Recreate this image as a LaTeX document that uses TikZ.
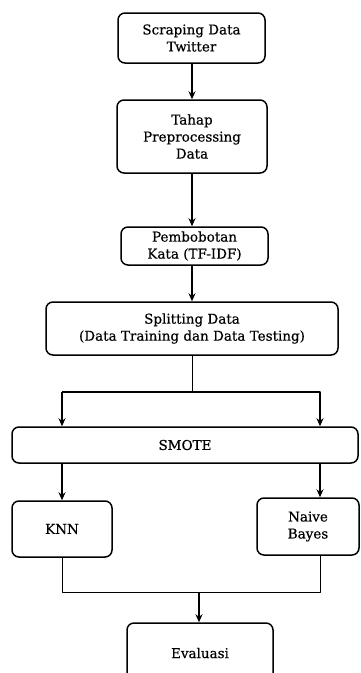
\documentclass[tikz,border=0pt]{standalone}
\usepackage{fontspec}
\setmainfont{DejaVu Serif}[FakeBold=0.5]
\usetikzlibrary{positioning,arrows.meta}
\tikzset{
	tahap/.style={draw, rounded corners=7pt, line width=1.5pt, align=center, inner sep=0pt},
	panah/.style={->, line width=1.1pt},
	garis/.style={line width=0.9pt},
}
\begin{document}
\begin{tikzpicture}[>={Stealth[length=8pt,width=7pt]},line join=round,font=\fontsize{13.5}{17}\selectfont\addfontfeature{FakeBold=0.5}, x=1pt, y=-1pt]
				\useasboundingbox (0,0) rectangle (360,673);
				\node[tahap, minimum width=147pt, minimum height=50pt] (scrap) at (191.5,38) {Scraping Data\\Twitter};
				\node[tahap, minimum width=150pt, minimum height=73pt] (prepro) at (192,136.5) {Tahap\\Preprocessing\\Data};
				\node[tahap, minimum width=147pt, minimum height=38pt] (bobot) at (194.5,246) {Pembobotan\\Kata (TF-IDF)};
				\node[tahap, minimum width=292pt, minimum height=53pt] (split) at (192,328.5) {Splitting Data\\(Data Training dan Data Testing)};
				\node[tahap, minimum width=346pt, minimum height=36pt] (smote) at (185,445) {SMOTE};
				\node[tahap, minimum width=100pt, minimum height=56pt] (knn) at (62,529) {KNN};
				\node[tahap, minimum width=102pt, minimum height=57pt] (nb) at (308,526.5) {Naive\\Bayes};
				\node[tahap, minimum width=146pt, minimum height=60pt] (eval) at (200,653) {Evaluasi};
				\coordinate (kiri) at (62,392); \coordinate (kanan) at (320,392);
				\coordinate (gabung) at (199,592);
				\draw[panah] (scrap.south -| prepro) -- (prepro.north);
				\draw[panah] (prepro.south) -- (prepro.south |- bobot.north);
				\draw[panah] (bobot.south -| prepro) -- (prepro |- split.north);
				\draw[garis] (split.south) -- (split |- kiri);
				\draw[panah] (kiri) -- (kanan) -- (kanan |- smote.north);
				\draw[panah] (kiri) -- (kiri |- smote.north);
				\draw[panah] (kiri |- smote.south) -- (knn.north);
				\draw[panah] (kanan |- smote.south) -- (kanan |- nb.north);
				\draw[garis] (knn.south) -- (knn |- gabung) -- (kanan |- gabung) -- (kanan |- nb.south);
				\draw[panah] (gabung) -- (eval.north -| gabung);
			\end{tikzpicture}
\end{document}
